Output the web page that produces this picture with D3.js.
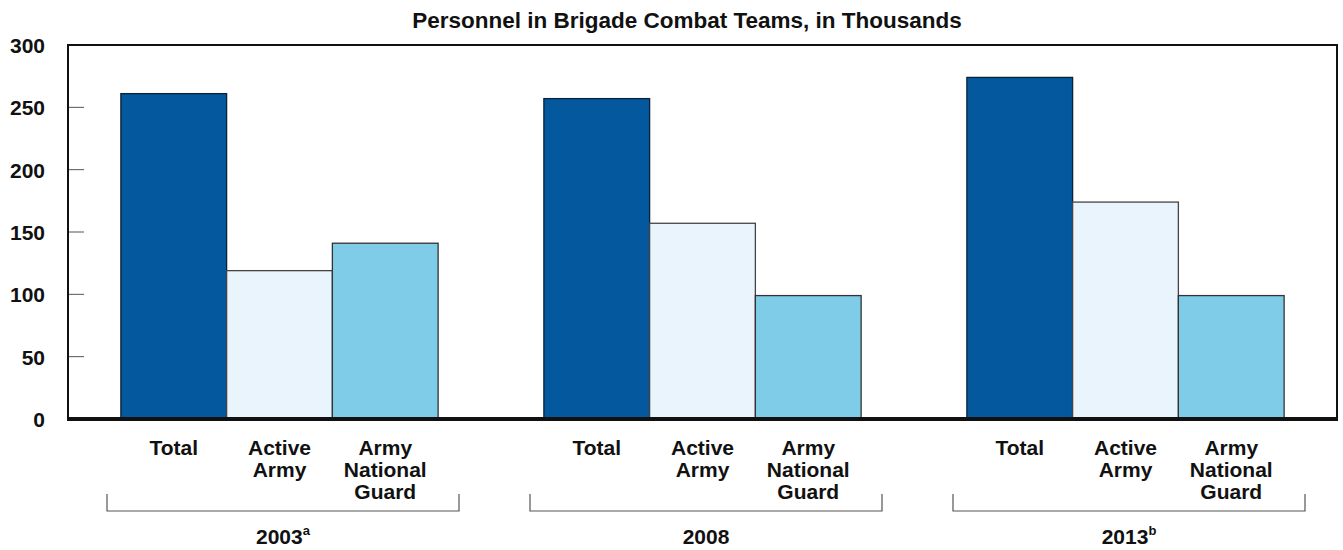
<!DOCTYPE html>
<html>
<head>
<meta charset="utf-8">
<script src="https://cdn.jsdelivr.net/npm/d3@7"></script>
<style>
  body { margin: 0; background: #fff; }
  text { font-family: "Liberation Sans", Arial, sans-serif; font-weight: bold; fill: #111; }
</style>
</head>
<body>
<div id="chart"></div>
<script>
const years = ["2003", "2008", "2013"];
const yearNotes = ["a", "", "b"];
const series = ["Total", "Active Army", "Army National Guard"];
const seriesLabels = [["Total"], ["Active", "Army"], ["Army", "National", "Guard"]];
const totalValues = [261, 257, 274];
const activeValues = [119, 157, 174];
const guardValues = [141, 99, 99];
const yTicks = [0, 50, 100, 150, 200, 250, 300];
const colors = ["#03589e", "#eaf4fc", "#7fcce8"];
const strokes = ["#0d2238", "#444", "#333"];

const width = 1343, height = 550;
const plotLeft = 68, plotRight = 1337, plotTop = 45, plotBottom = 419;

const svg = d3.select("#chart").append("svg")
  .attr("width", width)
  .attr("height", height);

const data = years.map((yr, i) => ({
  year: yr,
  values: [totalValues[i], activeValues[i], guardValues[i]]
}));

const x0 = d3.scaleBand().domain(years).range([plotLeft, plotRight]);
const x1 = d3.scaleBand().domain(series).range([0, x0.bandwidth()]).paddingOuter(0.5);
const y = d3.scaleLinear().domain([0, 300]).range([plotBottom, plotTop]);

// title
svg.append("text")
  .attr("x", 687).attr("y", 28)
  .attr("text-anchor", "middle")
  .style("font-size", "22.5px")
  .text("Personnel in Brigade Combat Teams, in Thousands");

// bars
const g = svg.selectAll(".grp")
  .data(data)
  .enter().append("g")
  .attr("class", "grp")
  .attr("transform", d => `translate(${x0(d.year)},0)`);

g.selectAll("rect")
  .data(d => d.values.map((v, j) => ({ s: series[j], v: v, j: j })))
  .enter().append("rect")
  .attr("x", d => x1(d.s))
  .attr("y", d => y(d.v))
  .attr("width", x1.bandwidth())
  .attr("height", d => y(0) - y(d.v))
  .style("fill", d => colors[d.j])
  .style("stroke", d => strokes[d.j])
  .style("stroke-width", 1.3);

// y axis (ticks inward)
const yAxis = d3.axisLeft(y).tickValues(yTicks).tickSize(0).tickPadding(23);
const ya = svg.append("g").attr("transform", `translate(${plotLeft},0)`).call(yAxis);
ya.select(".domain").remove();
ya.selectAll("text").style("font-size", "21px").attr("dy", "0.36em");

svg.append("g").selectAll("line")
  .data(yTicks.filter(t => t > 0 && t < 300))
  .enter().append("line")
  .attr("x1", plotLeft).attr("x2", plotLeft + 16)
  .attr("y1", d => y(d)).attr("y2", d => y(d))
  .style("stroke", "#555").style("stroke-width", 1);

// frame
svg.append("path")
  .attr("d", `M${plotLeft},${plotBottom}V${plotTop}H${plotRight}V${plotBottom}`)
  .style("fill", "none").style("stroke", "#111").style("stroke-width", 2);
svg.append("line")
  .attr("x1", plotLeft - 1).attr("x2", plotRight + 1)
  .attr("y1", plotBottom).attr("y2", plotBottom)
  .style("stroke", "#111").style("stroke-width", 4);

// category labels
data.forEach((d, i) => {
  const gx = x0(d.year);
  seriesLabels.forEach((lines, j) => {
    const cx = gx + x1(series[j]) + x1.bandwidth() / 2;
    const t = svg.append("text")
      .attr("text-anchor", "middle")
      .attr("x", cx)
      .attr("y", 455)
      .style("font-size", "21px");
    lines.forEach((ln, k) => {
      t.append("tspan")
        .attr("x", cx)
        .attr("dy", k === 0 ? 0 : 22)
        .text(ln);
    });
  });

  // bracket
  const bx0 = gx + 39, bx1 = gx + x0.bandwidth() - 32;
  svg.append("path")
    .attr("d", `M${bx0},494V511H${bx1}V494`)
    .style("fill", "none").style("stroke", "#555").style("stroke-width", 1.2);

  const yt = svg.append("text")
    .attr("text-anchor", "middle")
    .attr("x", (bx0 + bx1) / 2)
    .attr("y", 544)
    .style("font-size", "21px");
  yt.append("tspan").text(d.year);
  if (yearNotes[i]) {
    yt.append("tspan")
      .attr("dy", -9)
      .style("font-size", "13px")
      .text(yearNotes[i]);
  }
});
</script>
</body>
</html>
